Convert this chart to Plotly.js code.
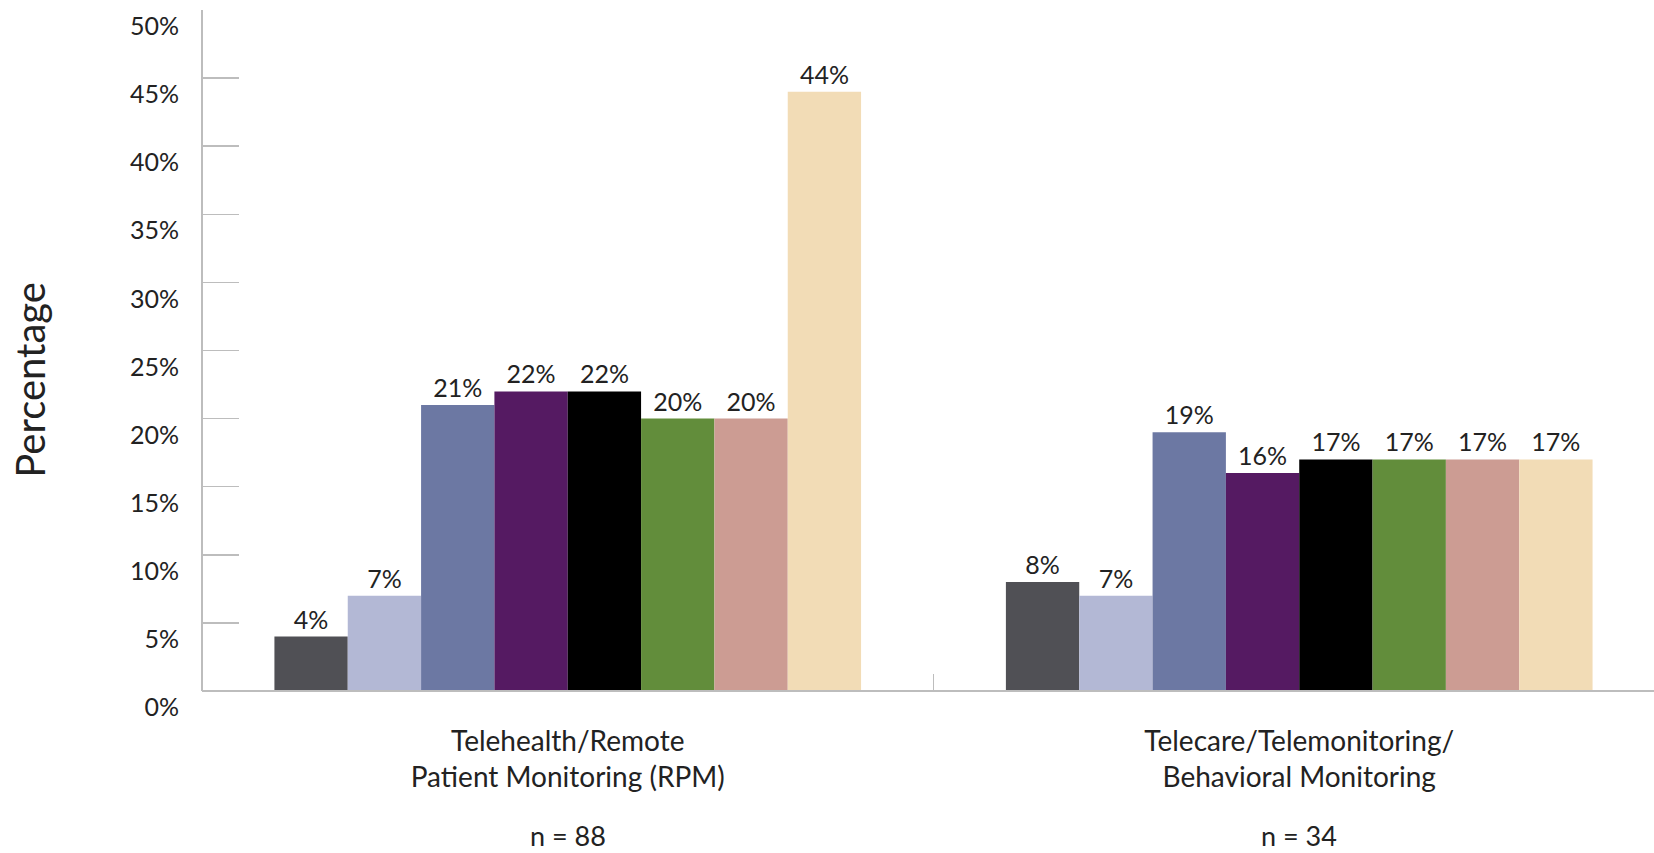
<!DOCTYPE html>
<html>
<head>
<meta charset="utf-8">
<script src="https://cdn.plot.ly/plotly-3.0.1.min.js"></script>
<style>html,body{margin:0;padding:0;background:#fff;}#chart{width:1654px;height:853px;}</style>
</head>
<body>
<div id="chart"></div>
<script>
// ---- data ----
const categories = ["Telehealth/Remote<br>Patient Monitoring (RPM)",
                    "Telecare/Telemonitoring/<br>Behavioral Monitoring"];
const categoryKeys = ["RPM", "Telecare"];
const sampleSizes = ["n = 88", "n = 34"];
const yTitle = "Percentage";
const series1 = [4, 8];
const series2 = [7, 7];
const series3 = [21, 19];
const series4 = [22, 16];
const series5 = [22, 17];
const series6 = [20, 17];
const series7 = [20, 17];
const series8 = [44, 17];
const seriesNames = ["Series 1","Series 2","Series 3","Series 4","Series 5","Series 6","Series 7","Series 8"];
const yTickValues = [0,5,10,15,20,25,30,35,40,45,50];
const yTickLabels = ["0%","5%","10%","15%","20%","25%","30%","35%","40%","45%","50%"];

// ---- style ----
const colors = ["#505055","#b3b8d5","#6c78a3","#551a62","#000000","#628d3b","#cc9c93","#f2dcb6"];
const FONT = "Lato, 'Noto Sans', sans-serif";
const allSeries = [series1,series2,series3,series4,series5,series6,series7,series8];

const traces = allSeries.map((vals, i) => ({
  type: "bar",
  name: seriesNames[i],
  x: categoryKeys,
  y: vals,
  marker: {color: colors[i], line: {width: 0}},
  text: vals.map(v => v + "%"),
  textposition: "outside",
  textfont: {family: FONT, size: 25, color: "#222"},
  cliponaxis: false,
  hoverinfo: "x+y"
}));

const yMin = -2.2, yMax = 50, labelShift = 1.2;

// invisible trace to activate yaxis2 (label axis)
traces.push({type: "scatter", x: categoryKeys, y: [null, null], yaxis: "y2", showlegend: false, hoverinfo: "skip"});

const annotations = categoryKeys.map((k, i) => ({
  x: k, xref: "x", y: -0.1855, yref: "paper",
  text: sampleSizes[i], showarrow: false,
  xanchor: "center", yanchor: "bottom", borderpad: 0,
  font: {family: FONT, size: 27, color: "#222"}
}));
annotations.push({
  x: -0.1185, xref: "paper", y: 0.48, yref: "paper",
  text: yTitle, showarrow: false, textangle: -90,
  xanchor: "center", yanchor: "middle",
  font: {family: FONT, size: 40, color: "#222"}
});

const layout = {
  width: 1654, height: 853,
  margin: {l: 202, r: 0, t: 10, b: 132},
  paper_bgcolor: "#fff", plot_bgcolor: "#fff",
  showlegend: false,
  barmode: "group",
  bargap: 0.198,
  bargroupgap: 0,
  font: {family: FONT, color: "#222"},
  xaxis: {
    type: "category",
    range: [-0.5, 1.485],
    anchor: "free",
    position: (0 - yMin) / (yMax - yMin),
    tickmode: "array",
    tickvals: categoryKeys,
    ticktext: categories,
    tickson: "boundaries",
    ticks: "inside",
    ticklen: 16,
    tickwidth: 1.5,
    tickcolor: "#bdbdbd",
    showline: true,
    linecolor: "#bdbdbd",
    linewidth: 2,
    showgrid: false,
    zeroline: false,
    tickfont: {family: FONT, size: 28, color: "#222"},
    ticklabelstandoff: 25
  },
  yaxis: {
    range: [yMin, yMax],
    tickmode: "array",
    tickvals: yTickValues,
    ticks: "inside",
    ticklen: 37,
    tickwidth: 1.5,
    tickcolor: "#bdbdbd",
    showticklabels: false,
    showline: false,
    showgrid: false,
    zeroline: false
  },
  yaxis2: {
    overlaying: "y",
    side: "left",
    anchor: "x",
    range: [yMin + labelShift, yMax + labelShift],
    tickmode: "array",
    tickvals: yTickValues,
    ticktext: yTickLabels,
    ticks: "",
    showline: false,
    showgrid: false,
    zeroline: false,
    tickfont: {family: FONT, size: 25, color: "#222"},
    ticklabelstandoff: 22
  },
  annotations: annotations,
  shapes: [{
    type: "line", xref: "paper", yref: "y",
    x0: 0, x1: 0, y0: 0, y1: yMax,
    line: {color: "#bdbdbd", width: 2}
  }]
};

Plotly.newPlot("chart", traces, layout, {displayModeBar: false, staticPlot: true});
</script>
</body>
</html>
